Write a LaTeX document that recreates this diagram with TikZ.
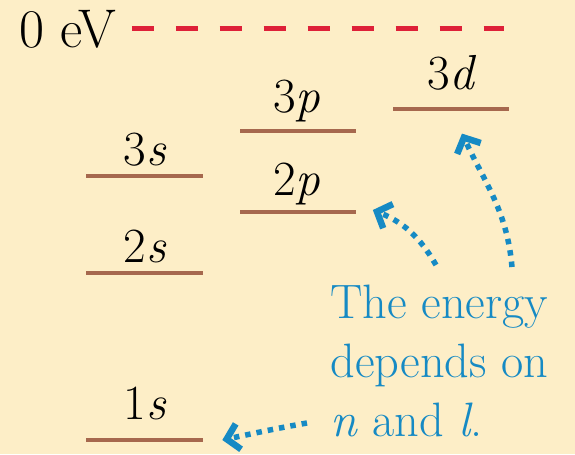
\documentclass[tikz,border=0pt]{standalone}
\usetikzlibrary{arrows.meta}
\definecolor{bgyellow}{RGB}{253,238,199}
\definecolor{levelbrown}{RGB}{166,104,78}
\definecolor{zerored}{RGB}{222,32,56}
\definecolor{noteblue}{RGB}{22,138,196}

\begin{document}
\begin{tikzpicture}[x=0.02cm,y=0.02cm,
    orbital/.style={fill=levelbrown,minimum width=2.34cm,minimum height=0.09cm,inner sep=0pt},
    lbl/.style={anchor=base,inner sep=0pt,font=\fontsize{28}{32}\selectfont},
    note/.style={anchor=north west,inner sep=0pt,align=left,text=noteblue,font=\fontsize{27.5}{33.5}\selectfont},
    zerodash/.style={draw=zerored,line width=0.1cm,dash pattern=on 0.44cm off 0.44cm,shorten <=0.3cm},
    hint/.style={draw=noteblue,line width=0.11cm,dash pattern=on 0.11cm off 0.12cm,-{Straight Barb[length=0.24cm,width=0.52cm,line width=0.13cm]}}]

      \fill[bgyellow] (0,0) rectangle (575,-454);

      \node[lbl,anchor=base west,font=\fontsize{31}{34}\selectfont] (ev) at (19,-47) {0 eV};
      \coordinate (zend) at (504,-29);
      \draw[zerodash] (ev.east) -- (ev.east -| zend);

      \node[orbital] (l1s) at (144.5,-440) {};
      \node[orbital] (l2s) at (144.5,-273) {};
      \node[orbital] (l3s) at (144.5,-176) {};
      \node[orbital] (l2p) at (298,-212) {};
      \node[orbital] (l3p) at (298,-131) {};
      \node[orbital] (l3d) at (451,-109) {};

      \node[lbl] (t1s) at (145,-419) {1\textit{s}};
      \node[lbl] (t2s) at (145,-262) {2\textit{s}};
      \node[lbl] (t3s) at (145,-165) {3\textit{s}};
      \node[lbl] (t2p) at (297,-195) {2\textit{p}};
      \node[lbl] (t3p) at (297,-112) {3\textit{p}};
      \node[lbl] (t3d) at (452,-89) {3\textit{d}};

      \node[note] (txt) at (330,-285) {The energy\\depends on\\\textit{n} and \textit{l}.};

      \coordinate (f1s) at (307,-423);
      \coordinate (f2p) at (436,-265);
      \coordinate (f3d) at (512,-267);
      \draw[hint] (f1s) to[out=190,in=12] ([shift={(19,0)}]l1s.east);
      \draw[hint] (f2p) to[out=120,in=-22] ([shift={(16,2)}]l2p.east);
      \draw[hint] (f3d) to[out=95,in=-65] ([shift={(11,-22)}]l3d.south);

    \end{tikzpicture}
\end{document}
